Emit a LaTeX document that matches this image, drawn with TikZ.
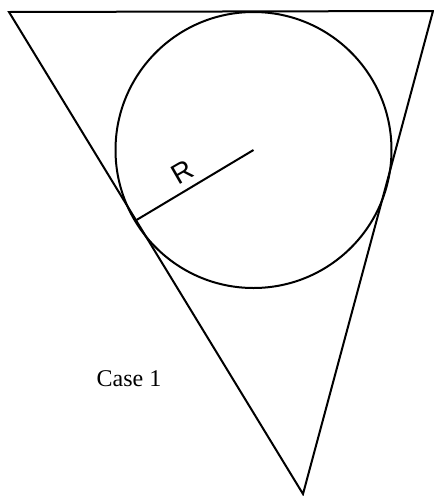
\documentclass[tikz,border=0pt]{standalone}
\usepackage{fontspec}
\setmainfont{Liberation Serif}
\setsansfont{Liberation Sans}
\begin{document}
\begin{tikzpicture}[x=1pt,y=-1pt,
  edge/.style={line width=2pt, line join=miter},
  lbl/.style={inner sep=0pt}]
\useasboundingbox (0,0) rectangle (434,496);
\coordinate (A) at (9,12);
\coordinate (B) at (433,11);
\coordinate (C) at (303,494);
\coordinate (O) at (253.5,150);
\coordinate (T) at (136.5,220);
\draw[edge] (A) -- (B) -- (C) -- cycle;
\draw[edge] (O) circle[radius=138];
\draw[edge] (O) -- (T);
\node[lbl, rotate=30, font=\sffamily\fontsize{28}{30}\selectfont] (R) at (182,172) {R};
\node[lbl, font=\fontsize{24}{28}\selectfont] (case) at (129,379) {Case 1};
\end{tikzpicture}
\end{document}
